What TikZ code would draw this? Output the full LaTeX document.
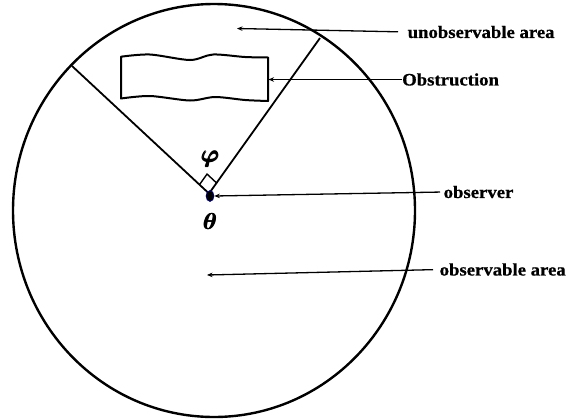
\documentclass[tikz,border=0pt]{standalone}
\usepackage{fontspec}
\usepackage{amsmath,bm}
\setmainfont{Liberation Serif}
\newfontfamily\lblfont[FakeStretch=1.07,BoldFeatures={FakeBold=0.6}]{Liberation Serif}
\usetikzlibrary{arrows.meta,shapes.geometric,calc}
\begin{document}
\begin{tikzpicture}[x=1pt,y=-1pt,
  lbl/.style={anchor=west,inner sep=0.5pt,font=\lblfont\bfseries\fontsize{17.5}{20}\selectfont},
  arr/.style={line width=1.3pt,-{Stealth[length=5.5pt,width=4.5pt]}},
  ray/.style={line width=1.8pt},
  greek/.style={inner sep=0pt}]
\useasboundingbox[fill=white] (0,0) rectangle (570,418);
% outer boundary
\draw[line width=2.4pt] (214,210.5) ellipse [x radius=201pt, y radius=206.5pt];
% observer and the two rays
\coordinate (O) at (209,193.5);
\coordinate (L) at (72,66);
\coordinate (R) at (320,38);
\draw[ray] (L) -- (O) -- (R);
% right-angle mark
\coordinate (A) at ($(O)!13pt!(L)$);
\coordinate (B) at ($(O)!13pt!(R)$);
\draw[line width=1.4pt] (A) -- ($(A)+(B)-(O)$) -- (B);
% observer dot
\node (obs) [ellipse, draw=blue!55!black, line width=0.6pt, fill=black,
  minimum width=8pt, minimum height=11pt, inner sep=0pt] at (210,196) {};
% greek labels
\node (phi) [greek] at (210.5,159) {\scalebox{2.4}{$\pmb{\bm{\varphi}}$}};
\node (theta) [greek] at (210.5,221.5) {\scalebox{2.3}{$\pmb{\bm{\theta}}$}};
% obstruction
\draw[line width=2pt, line join=round]
  plot[smooth] coordinates {(121,56.7) (150,54.5) (190,60) (213,54.5) (245,57) (268,57.5)}
  -- plot[smooth] coordinates {(268,101) (245,100) (215,97) (190,100.5) (150,96) (121,98.5)}
  -- cycle;
% labels
\node (unobs) [lbl] at (407,32) {unobservable area};
\node (obstr) [lbl] at (401.5,79.5) {Obstruction};
\node (obsv) [lbl] at (443,192) {observer};
\node (obsa) [lbl] at (439,269.5) {observable area};
% pointers
\coordinate (tU) at (237,28.5);
\coordinate (tO) at (268.5,79.5);
\coordinate (tA) at (207,275);
\draw[arr, shorten <=9pt] (unobs.west) -- (tU);
\draw[arr] (obstr.west) -- (tO);
\draw[arr, shorten <=3pt] (obsv.west) -- (obs.east);
\draw[arr, shorten <=6pt] (obsa.west) -- (tA);
\end{tikzpicture}
\end{document}
